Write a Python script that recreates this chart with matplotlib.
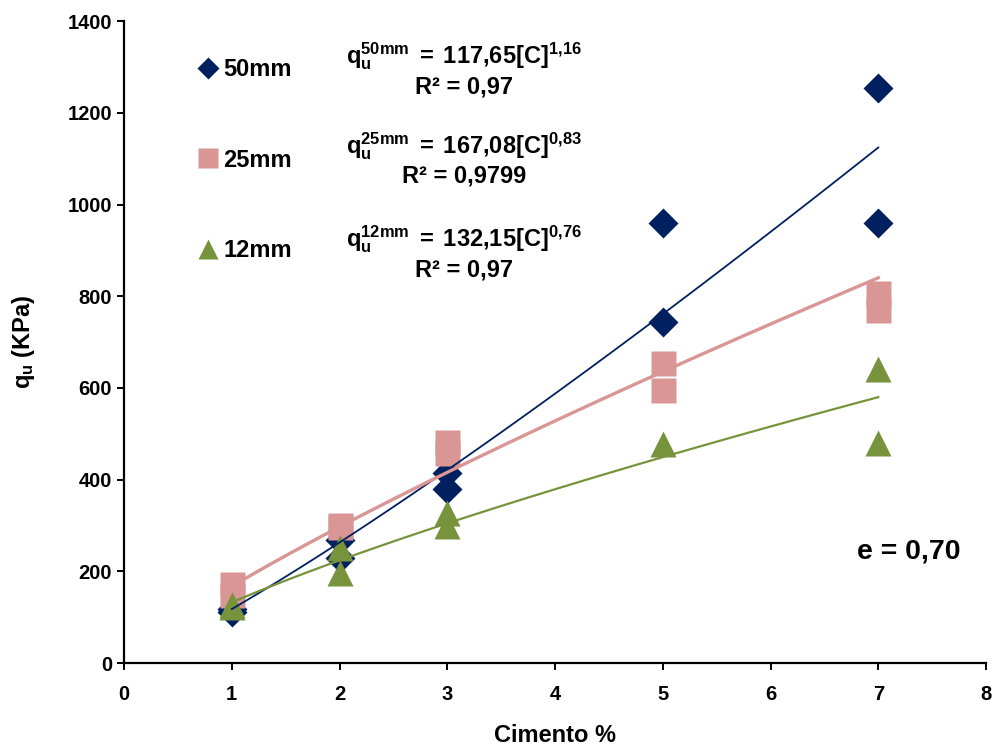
import numpy as np
import matplotlib
matplotlib.use("Agg")
import matplotlib.pyplot as plt
from matplotlib.lines import Line2D

plt.rcParams['font.family'] = ['Liberation Sans', 'DejaVu Sans']
plt.rcParams['mathtext.fontset'] = 'custom'
plt.rcParams['mathtext.rm'] = 'Liberation Sans'
plt.rcParams['mathtext.bf'] = 'Liberation Sans:bold'
plt.rcParams['mathtext.it'] = 'Liberation Sans:bold'

# measured points (Cimento %, qu KPa)
x50 = [1, 1, 2, 2, 3, 3, 5, 5, 7, 7]
y50 = [111, 118, 268, 230, 415, 380, 959, 744, 1254, 959]
x25 = [1, 1, 2, 2, 3, 3, 5, 5, 7, 7]
y25 = [172, 149, 301, 296, 483, 459, 655, 595, 808, 771]
x12 = [1, 1, 2, 2, 3, 3, 5, 7, 7]
y12 = [127, 122, 251, 196, 327, 299, 477, 641, 479]

# power fits qu = a*C^b
fit_a = [117.65, 167.08, 132.15]
fit_b = [1.16, 0.83, 0.76]
labels = ["50mm", "25mm", "12mm"]
colors = ["#002060", "#D99694", "#77933C"]
markers = ["D", "s", "^"]
eq_text = [r"$\mathbf{q_u^{50mm}\;=\;117{,}65[C]^{1{,}16}}$",
           r"$\mathbf{q_u^{25mm}\;=\;167{,}08[C]^{0{,}83}}$",
           r"$\mathbf{q_u^{12mm}\;=\;132{,}15[C]^{0{,}76}}$"]
r2_text = ["R² = 0,97", "R² = 0,9799", "R² = 0,97"]

fig = plt.figure(figsize=(9.92, 7.49), dpi=100)
ax = fig.add_axes([0.125, 0.1148, 0.869, 0.857])

ax.plot(x50, y50, linestyle="none", marker="D", ms=15, color=colors[0], mec="none")
ax.plot(x25, y25, linestyle="none", marker="s", ms=18, color=colors[1], mec="none")
ax.plot(x12, y12, linestyle="none", marker="^", ms=19, color=colors[2], mec="none")

xf = np.linspace(1, 7, 100)
lw = [1.3, 2.4, 1.6]
for i in range(3):
	ax.plot(xf, fit_a[i] * xf ** fit_b[i], color=colors[i], linewidth=lw[i])

ax.set_xlim(0, 8)
ax.set_ylim(0, 1400)
ax.set_xticks(np.arange(0, 9, 1))
ax.set_yticks(np.arange(0, 1401, 200))
for s in ["top", "right"]:
	ax.spines[s].set_visible(False)
for s in ["left", "bottom"]:
	ax.spines[s].set_linewidth(1.6)
ax.tick_params(width=1.4, length=5, labelsize=14.5)
ax.tick_params(axis="x", pad=11)
for t in ax.get_xticklabels() + ax.get_yticklabels():
	t.set_fontweight("bold")

ax.set_xlabel("Cimento %", fontsize=17, fontweight="bold", labelpad=14)
ax.set_ylabel(r"$\mathbf{q_u}$ (KPa)", fontsize=17, fontweight="bold", labelpad=22)

handles = [Line2D([], [], linestyle="none", marker=markers[0], ms=11, color=colors[0], mec="none"),
           Line2D([], [], linestyle="none", marker=markers[1], ms=15, color=colors[1], mec="none"),
           Line2D([], [], linestyle="none", marker=markers[2], ms=14, color=colors[2], mec="none")]
leg = ax.legend(handles, labels, loc="upper left", bbox_to_anchor=(0.062, 0.975),
                frameon=False, prop={"size": 17, "weight": "bold"},
                labelspacing=2.85, handlelength=0.8, handletextpad=0.25)

eq_y = [0.945, 0.805, 0.66]
for i in range(3):
	ax.text(0.394, eq_y[i], eq_text[i], transform=ax.transAxes, ha="center", va="center", fontsize=17)
	ax.text(0.394, eq_y[i] - 0.047, r2_text[i], transform=ax.transAxes, ha="center", va="center",
	        fontsize=17, fontweight="bold")

ax.text(0.91, 0.173, "e = 0,70", transform=ax.transAxes, ha="center", va="center",
        fontsize=20.5, fontweight="bold")

fig.savefig("out.png", dpi=100)
